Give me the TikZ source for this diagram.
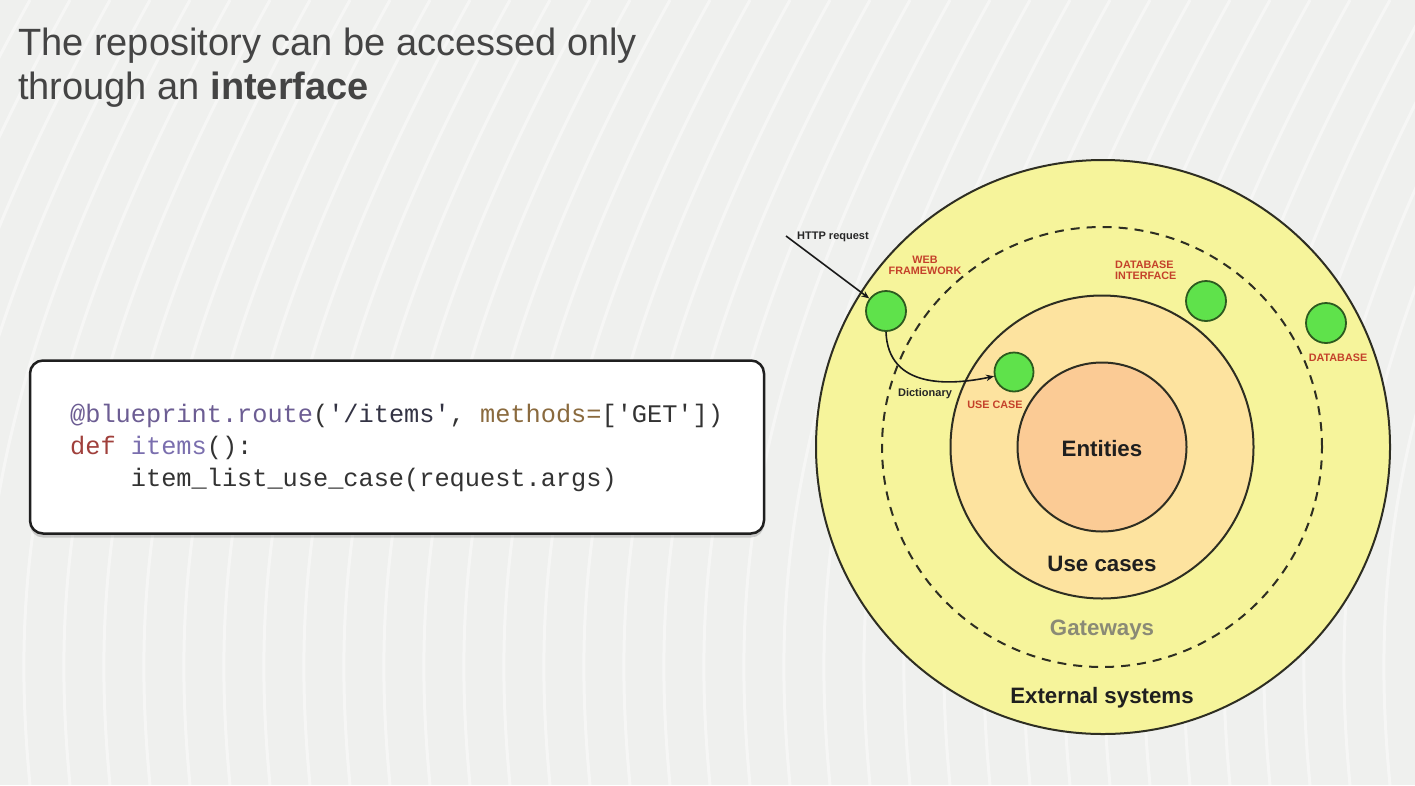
\documentclass[tikz,border=0pt]{standalone}
\usepackage{fontspec}
\setmainfont{Liberation Sans}
\setmonofont{Liberation Mono}
\usetikzlibrary{arrows.meta,shadows}

\definecolor{bg}{HTML}{EFF0EE}
\definecolor{titlegray}{HTML}{444444}
\definecolor{extfill}{HTML}{F6F49B}
\definecolor{ucfill}{HTML}{FDE39F}
\definecolor{entfill}{HTML}{FBCB95}
\definecolor{ringline}{HTML}{2E2E22}
\definecolor{greenfill}{HTML}{5FE24B}
\definecolor{greenline}{HTML}{2D5A1F}
\definecolor{lblred}{HTML}{C4412A}
\definecolor{gwgray}{HTML}{8A8A76}
\definecolor{cdeco}{HTML}{6C5D93}
\definecolor{cstr}{HTML}{333344}
\definecolor{ckw}{HTML}{8A6A3E}
\definecolor{cdef}{HTML}{A0403C}
\definecolor{cfn}{HTML}{7A6EAE}
\definecolor{cplain}{HTML}{333333}

\tikzset{
  ring/.style={circle, draw=ringline, line width=2pt, inner sep=0pt},
  comp/.style={circle, fill=greenfill, draw=greenline, line width=1.8pt,
               minimum size=40pt, inner sep=0pt},
  redlbl/.style={text=lblred, font=\fontsize{10.8}{11}\selectfont\bfseries,
                 inner sep=0pt, align=center},
  smalllbl/.style={text=black!85, font=\fontsize{11}{12}\selectfont\bfseries, inner sep=0pt},
  biglbl/.style={text=black!88, font=\fontsize{22.3}{24}\selectfont\bfseries, inner sep=0pt},
  codeline/.style={anchor=base west, inner sep=0pt, text=cplain,
                   font=\fontsize{25.3}{28}\selectfont\ttfamily},
  titleline/.style={anchor=base west, inner sep=0pt, text=titlegray,
                    font=\fontsize{38}{44}\selectfont},
  conn/.style={draw=black!90, line width=1.6pt, -{Stealth[length=8pt,width=6.5pt]}},
  stripe/.style={draw=white, line width=3pt, opacity=0.45}
}

\begin{document}
\begin{tikzpicture}[x=1pt,y=-1pt]
\useasboundingbox (0,0) rectangle (1415,785);

% background with soft white swooshes
\fill[bg] (0,0) rectangle (1415,785);
\begin{scope}
  \clip (0,0) rectangle (1415,785);
  \foreach \a in {-320,-280,...,1420} {
    \draw[stripe] (\a+30,785) .. controls (\a+10,580) and (\a+30,360) .. (\a+230,0);
  }
\end{scope}

% heading
\node[titleline] (title1) at (18,55) {The repository can be accessed only};
\node[titleline] (title2) at (18,99) {through an \textbf{interface}};

% code panel
\node[draw=black!88, line width=2.5pt, fill=white, rounded corners=13pt,
      minimum width=734pt, minimum height=173pt, inner sep=0pt,
      drop shadow={shadow xshift=0pt, shadow yshift=-4pt, opacity=0.35}]
      (codebox) at (397,447) {};
\node[codeline] (code1) at (70,422)
  {\textcolor{cdeco}{@blueprint.route}(\textcolor{cstr}{'/items'}, \textcolor{ckw}{methods=}['GET'])};
\node[codeline] (code2) at (70,454)
  {\textcolor{cdef}{def} \textcolor{cfn}{items}():};
\node[codeline] (code3) at (70,486)
  {\ \ \ \ item\_list\_use\_case(request.args)};

% concentric layers
\node[ring, fill=extfill, minimum size=574pt] (ext) at (1103,447) {};
\node[ring, dash pattern=on 9pt off 7pt, minimum size=440pt] (gw) at (1102,447) {};
\node[ring, fill=ucfill, minimum size=303pt] (uc) at (1102,447) {};
\node[ring, fill=entfill, minimum size=169pt] (ent) at (1102,447) {};

\node[biglbl] (entlbl) at (1102,449) {Entities};
\node[biglbl] (uclbl) at (1102,564) {Use cases};
\node[biglbl, text=gwgray] (gwlbl) at (1102,630) {Gateways};
\node[biglbl] (extlbl) at (1102,698) {External systems};

% components
\node[comp] (web) at (886,311) {};
\node[comp, minimum size=39pt] (usecase) at (1014,372) {};
\node[comp] (dbif) at (1206,301) {};
\node[comp] (db) at (1326,323) {};

\node[redlbl] (weblbl) at (925,265) {WEB\\FRAMEWORK};
\node[redlbl, align=left, anchor=west] (dbiflbl) at (1115,270) {DATABASE\\INTERFACE};
\node[redlbl] (dblbl) at (1338,358) {DATABASE};
\node[redlbl] (uclbl2) at (995,405) {USE CASE};

% request flow
\coordinate (httpsrc) at (786,236);
\node[smalllbl, anchor=west] (httplbl) at (797,237) {HTTP request};
\node[smalllbl] (dictlbl) at (925,394) {Dictionary};
\draw[conn] (httpsrc) -- (web);
\draw[conn] (web.south) .. controls (888,388) and (948,386) .. (usecase.192);
\end{tikzpicture}
\end{document}
